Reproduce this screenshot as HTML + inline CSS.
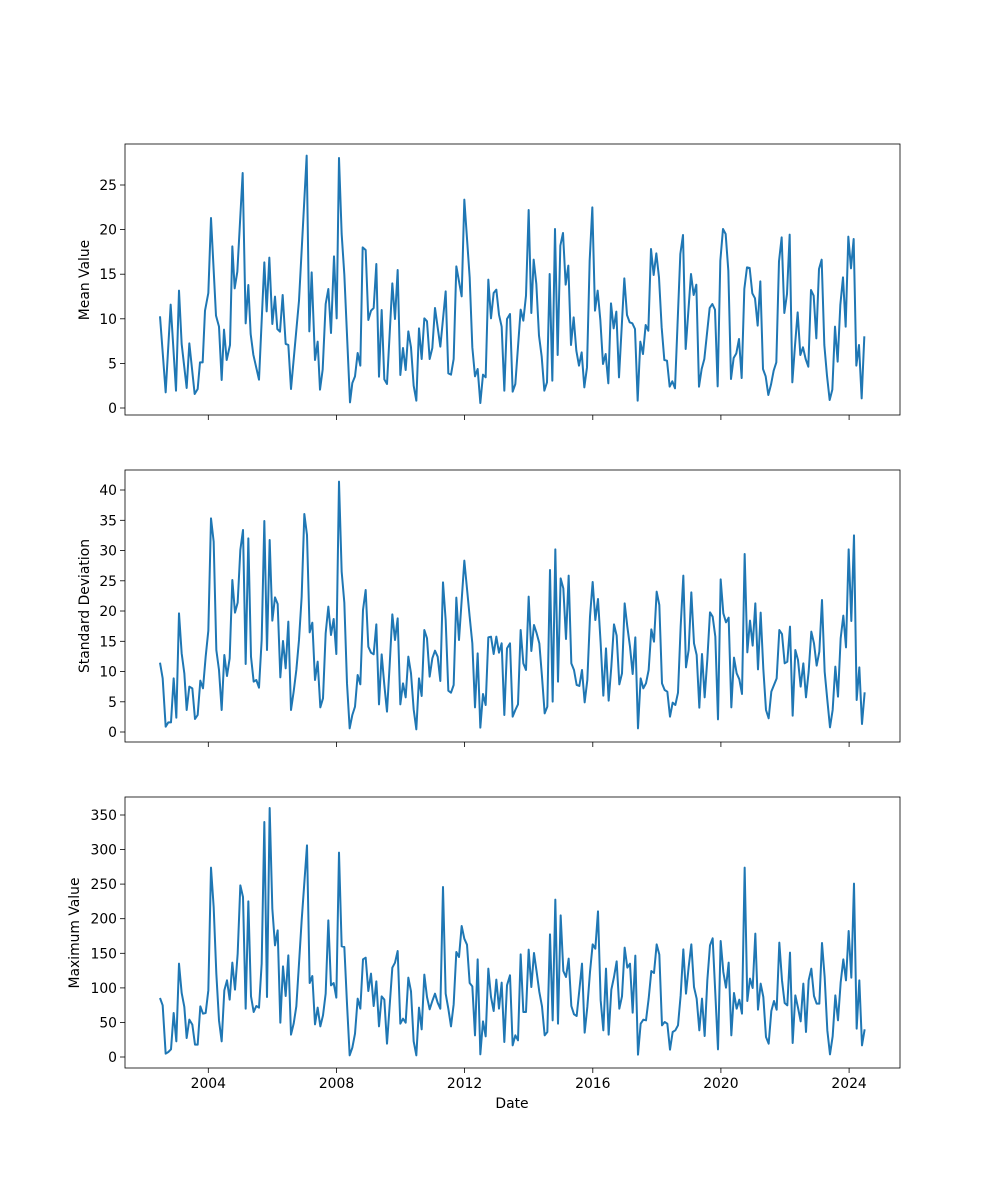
<!DOCTYPE html>
<html><head><meta charset="utf-8"><style>
html,body{margin:0;padding:0;background:#fff}
svg{display:block}
text{font-family:"DejaVu Sans","Liberation Sans",sans-serif;font-size:13.9px;fill:#000}
.l{fill:none;stroke:#1f77b4;stroke-width:2;stroke-linejoin:round;vector-effect:non-scaling-stroke}
.ax{fill:none;stroke:#000;stroke-width:0.8}
</style></head><body>
<svg width="1000" height="1200" viewBox="0 0 1000 1200" xmlns="http://www.w3.org/2000/svg">
<rect width="1000" height="1200" fill="#fff"/>

<!-- TOP -->
<g transform="translate(125,144) scale(0.33333)">
<polyline class="l" points="105,517 122,745 137,482 153,740 162,440 170,600 185,732 193,598 209,750 218,735 225,655 233,655 240,500 250,447 258,222 273,515 282,548 290,708 297,557 305,648 315,603 322,307 329,433 337,383 353,87 362,538 370,423 377,570 385,632 402,707 418,355 425,502 433,341 442,540 450,458 457,555 465,563 473,453 482,600 490,603 498,735 522,470 545,35 553,562 560,385 570,648 578,593 585,737 593,677 602,480 610,435 618,567 627,337 635,523 642,42 650,270 658,392 675,775 682,717 690,697 698,627 706,665 713,310 722,318 730,528 738,500 746,492 754,360 762,698 770,498 778,706 786,720 802,418 810,525 818,378 826,693 834,612 842,678 850,562 858,610 866,725 874,770 882,553 890,645 898,523 906,532 914,645 922,612 930,492 946,608 962,442 970,688 978,692 986,645 994,367 1010,457 1018,167 1034,400 1042,610 1050,697 1058,675 1066,777 1074,692 1082,700 1090,407 1098,523 1106,447 1114,437 1122,512 1130,548 1138,740 1146,525 1155,510 1163,743 1171,720 1187,497 1195,530 1203,455 1211,198 1219,507 1226,347 1234,420 1242,575 1250,637 1258,740 1266,715 1274,390 1282,710 1290,255 1298,633 1306,305 1314,267 1322,422 1330,365 1338,603 1346,520 1354,620 1362,665 1370,625 1378,730 1386,670 1394,350 1402,190 1410,500 1418,440 1426,528 1434,660 1442,630 1450,718 1458,478 1466,553 1474,503 1482,700 1498,403 1506,513 1514,535 1522,538 1530,555 1538,770 1546,593 1554,630 1562,543 1570,560 1578,315 1586,393 1594,328 1602,400 1610,550 1618,648 1626,650 1634,728 1642,712 1650,733 1666,330 1674,273 1682,615 1698,390 1706,453 1714,422 1722,728 1730,675 1738,645 1754,492 1762,480 1770,497 1778,727 1786,350 1794,255 1802,270 1810,380 1818,705 1826,642 1834,628 1842,585 1850,702 1858,435 1866,370 1874,372 1882,448 1890,463 1898,545 1906,412 1914,675 1922,697 1930,753 1938,722 1946,680 1954,655 1962,352 1970,280 1978,507 1986,450 1994,272 2002,715 2010,605 2018,505 2026,633 2034,610 2042,645 2050,668 2058,438 2066,455 2074,583 2082,375 2090,347 2098,603 2106,695 2114,768 2122,737 2130,548 2138,653 2146,483 2154,400 2162,548 2170,278 2178,373 2186,285 2194,665 2202,603 2210,763 2218,577"/>
</g>
<rect class="ax" x="125" y="144" width="775" height="271"/>
<g stroke="#000" stroke-width="0.8">
<line x1="208.3" y1="415" x2="208.3" y2="420"/><line x1="336.5" y1="415" x2="336.5" y2="420"/><line x1="464.6" y1="415" x2="464.6" y2="420"/><line x1="592.8" y1="415" x2="592.8" y2="420"/><line x1="720.9" y1="415" x2="720.9" y2="420"/><line x1="849.1" y1="415" x2="849.1" y2="420"/>
<line x1="120" y1="408" x2="125" y2="408"/><line x1="120" y1="363.4" x2="125" y2="363.4"/><line x1="120" y1="318.8" x2="125" y2="318.8"/><line x1="120" y1="274.2" x2="125" y2="274.2"/><line x1="120" y1="229.6" x2="125" y2="229.6"/><line x1="120" y1="185" x2="125" y2="185"/>
</g>
<g text-anchor="end">
<text x="117" y="413">0</text><text x="117" y="368.4">5</text><text x="117" y="323.8">10</text><text x="117" y="279.2">15</text><text x="117" y="234.6">20</text><text x="117" y="190">25</text>
</g>
<text transform="translate(89,280) rotate(-90)" text-anchor="middle">Mean Value</text>

<!-- MIDDLE -->
<g transform="translate(125,470) scale(0.33333)">
<polyline class="l" points="105,578 113,625 122,770 130,757 138,757 146,625 154,743 162,430 170,550 178,610 185,720 193,650 202,655 210,747 218,735 226,632 234,655 242,560 250,482 258,145 266,215 274,540 282,600 290,720 298,555 306,618 314,565 322,330 330,428 338,398 346,240 354,180 362,582 370,205 378,560 386,635 394,630 402,653 410,510 418,153 426,540 434,210 442,452 450,382 458,402 466,622 474,513 482,595 490,455 498,720 506,665 514,600 522,510 530,380 538,132 546,195 554,487 562,458 570,630 578,575 586,712 594,685 602,490 610,410 618,495 626,447 634,552 642,35 650,305 658,398 666,640 674,775 682,735 690,710 698,615 706,643 714,420 722,360 730,530 738,548 746,553 754,463 762,703 770,553 778,645 786,725 794,585 802,433 810,510 818,445 826,703 834,640 842,682 850,560 858,610 866,718 874,778 882,625 890,678 898,480 906,505 914,620 922,565 930,542 938,560 946,633 954,337 962,450 970,662 978,668 986,645 994,383 1002,510 1018,272 1034,440 1042,520 1050,712 1058,550 1066,773 1074,672 1082,705 1090,502 1098,500 1106,552 1114,500 1122,548 1130,520 1138,735 1146,535 1155,520 1163,740 1171,720 1179,703 1187,480 1195,580 1203,600 1211,380 1219,543 1227,465 1235,490 1243,520 1251,620 1259,730 1267,710 1275,300 1283,695 1291,238 1299,635 1307,325 1315,355 1323,507 1331,317 1339,580 1347,600 1355,645 1363,648 1371,600 1379,697 1387,630 1395,440 1403,336 1411,450 1419,387 1427,520 1435,677 1443,535 1451,692 1459,590 1467,463 1475,497 1483,643 1491,610 1499,400 1507,470 1515,530 1523,612 1531,502 1539,775 1547,625 1555,655 1563,640 1571,600 1579,478 1587,515 1595,365 1603,405 1611,640 1619,660 1627,665 1635,740 1643,698 1651,705 1659,668 1667,470 1675,317 1683,592 1691,540 1699,367 1707,520 1715,555 1723,713 1731,552 1739,682 1747,568 1755,427 1763,440 1771,500 1779,748 1787,328 1795,430 1803,457 1811,443 1819,712 1827,563 1835,610 1843,628 1851,672 1859,252 1867,547 1875,452 1883,527 1891,400 1899,598 1907,428 1915,597 1923,720 1931,745 1939,665 1947,645 1955,625 1963,480 1971,492 1979,580 1987,575 1995,470 2003,737 2011,540 2019,570 2027,650 2035,580 2043,682 2051,605 2059,485 2067,520 2075,587 2083,545 2091,390 2099,605 2107,690 2115,772 2123,720 2131,590 2139,680 2147,505 2155,437 2163,532 2171,238 2179,453 2187,196 2195,690 2203,592 2211,762 2219,667"/>
</g>
<rect class="ax" x="125" y="470" width="775" height="272"/>
<g stroke="#000" stroke-width="0.8">
<line x1="208.3" y1="742" x2="208.3" y2="747"/><line x1="336.5" y1="742" x2="336.5" y2="747"/><line x1="464.6" y1="742" x2="464.6" y2="747"/><line x1="592.8" y1="742" x2="592.8" y2="747"/><line x1="720.9" y1="742" x2="720.9" y2="747"/><line x1="849.1" y1="742" x2="849.1" y2="747"/>
<line x1="120" y1="732" x2="125" y2="732"/><line x1="120" y1="701.8" x2="125" y2="701.8"/><line x1="120" y1="671.5" x2="125" y2="671.5"/><line x1="120" y1="641.3" x2="125" y2="641.3"/><line x1="120" y1="611" x2="125" y2="611"/><line x1="120" y1="580.8" x2="125" y2="580.8"/><line x1="120" y1="550.5" x2="125" y2="550.5"/><line x1="120" y1="520.3" x2="125" y2="520.3"/><line x1="120" y1="490" x2="125" y2="490"/>
</g>
<g text-anchor="end">
<text x="117" y="737">0</text><text x="117" y="706.8">5</text><text x="117" y="676.5">10</text><text x="117" y="646.3">15</text><text x="117" y="616">20</text><text x="117" y="585.8">25</text><text x="117" y="555.5">30</text><text x="117" y="525.3">35</text><text x="117" y="495">40</text>
</g>
<text transform="translate(89,606) rotate(-90)" text-anchor="middle">Standard Deviation</text>

<!-- BOTTOM -->
<g transform="translate(125,797) scale(0.33333)">
<polyline class="l" points="105,603 113,625 122,770 130,765 138,757 146,648 154,733 162,500 170,588 178,630 185,723 193,668 202,683 210,743 218,743 226,628 234,650 242,648 250,580 258,212 266,330 274,530 282,670 290,733 298,580 306,550 314,608 322,497 330,578 338,470 346,265 354,300 362,635 370,313 378,598 386,645 394,627 402,632 410,500 418,75 426,600 434,33 442,335 450,445 458,400 466,677 474,508 482,597 490,475 498,713 506,680 514,628 522,500 530,370 546,145 554,558 562,537 570,682 578,632 586,688 594,655 602,590 610,370 618,565 626,558 634,602 642,167 650,448 658,450 666,620 674,775 682,752 690,710 698,605 706,635 714,487 722,482 730,582 738,530 746,627 754,553 762,688 770,598 778,608 786,740 802,512 810,497 818,462 826,680 834,665 842,677 850,542 858,583 866,733 874,775 882,632 890,697 898,533 906,600 914,637 922,612 930,590 938,617 946,635 954,270 962,590 970,635 978,688 986,622 994,465 1002,480 1010,387 1018,425 1026,443 1034,558 1042,568 1050,715 1058,487 1066,772 1074,673 1082,718 1090,515 1098,600 1106,642 1114,548 1122,635 1130,557 1138,735 1146,565 1155,535 1163,745 1171,715 1179,730 1187,472 1195,645 1203,645 1211,458 1219,570 1227,468 1235,525 1243,585 1251,628 1259,715 1267,705 1275,412 1283,670 1291,308 1299,680 1307,355 1315,522 1323,540 1331,485 1339,627 1347,652 1355,657 1363,580 1371,500 1379,707 1387,630 1395,525 1403,442 1411,455 1419,343 1427,610 1435,700 1443,515 1451,713 1459,578 1467,540 1475,493 1483,635 1491,598 1499,452 1507,512 1515,500 1523,647 1531,476 1539,773 1547,680 1555,668 1563,670 1571,605 1579,522 1587,528 1595,442 1603,473 1611,685 1619,675 1627,680 1635,758 1643,705 1651,700 1659,685 1667,595 1675,457 1683,590 1691,510 1699,442 1707,570 1715,605 1723,700 1731,605 1739,717 1747,550 1755,445 1763,424 1771,590 1779,757 1787,432 1795,525 1803,572 1811,497 1819,715 1827,588 1835,635 1843,608 1851,650 1859,212 1867,612 1875,545 1883,573 1891,410 1899,638 1907,560 1915,600 1923,720 1931,740 1939,642 1947,612 1955,638 1963,437 1971,550 1979,618 1987,625 1995,467 2003,738 2011,595 2019,632 2027,673 2035,560 2043,705 2051,550 2059,515 2067,597 2075,620 2083,620 2091,438 2099,540 2107,700 2115,772 2123,718 2131,595 2139,670 2147,557 2155,487 2163,550 2171,402 2179,542 2187,260 2195,695 2203,550 2211,745 2219,697"/>
</g>
<rect class="ax" x="125" y="797" width="775" height="271"/>
<g stroke="#000" stroke-width="0.8">
<line x1="208.3" y1="1068" x2="208.3" y2="1073"/><line x1="336.5" y1="1068" x2="336.5" y2="1073"/><line x1="464.6" y1="1068" x2="464.6" y2="1073"/><line x1="592.8" y1="1068" x2="592.8" y2="1073"/><line x1="720.9" y1="1068" x2="720.9" y2="1073"/><line x1="849.1" y1="1068" x2="849.1" y2="1073"/>
<line x1="120" y1="1057" x2="125" y2="1057"/><line x1="120" y1="1022.4" x2="125" y2="1022.4"/><line x1="120" y1="987.9" x2="125" y2="987.9"/><line x1="120" y1="953.3" x2="125" y2="953.3"/><line x1="120" y1="918.7" x2="125" y2="918.7"/><line x1="120" y1="884.1" x2="125" y2="884.1"/><line x1="120" y1="849.6" x2="125" y2="849.6"/><line x1="120" y1="815" x2="125" y2="815"/>
</g>
<g text-anchor="end">
<text x="117" y="1062">0</text><text x="117" y="1027.4">50</text><text x="117" y="992.9">100</text><text x="117" y="958.3">150</text><text x="117" y="923.7">200</text><text x="117" y="889.1">250</text><text x="117" y="854.6">300</text><text x="117" y="820">350</text>
</g>
<g text-anchor="middle">
<text x="208.3" y="1088">2004</text><text x="336.5" y="1088">2008</text><text x="464.6" y="1088">2012</text><text x="592.8" y="1088">2016</text><text x="720.9" y="1088">2020</text><text x="849.1" y="1088">2024</text>
<text x="512" y="1108">Date</text>
</g>
<text transform="translate(79,933) rotate(-90)" text-anchor="middle">Maximum Value</text>
</svg>
</body></html>
